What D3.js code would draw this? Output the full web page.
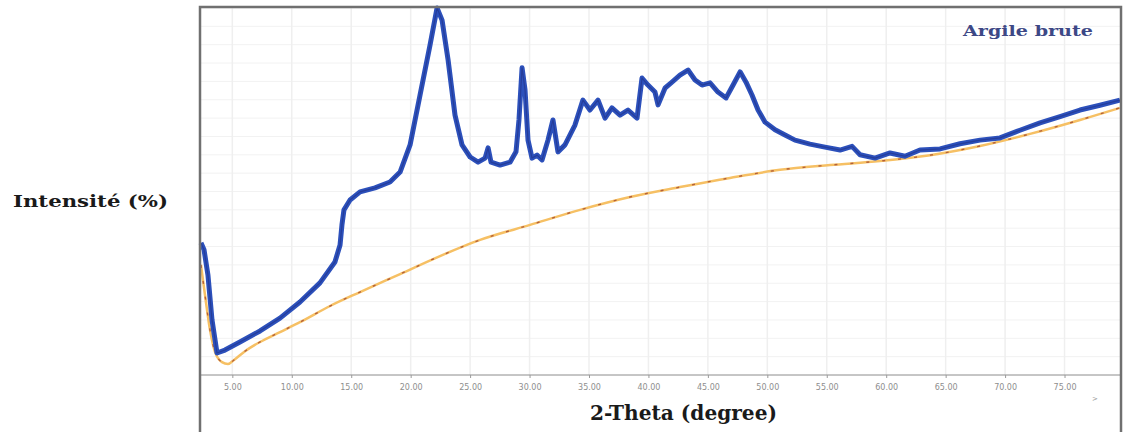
<!DOCTYPE html>
<html>
<head>
<meta charset="utf-8">
<script src="https://cdn.jsdelivr.net/npm/d3@7"></script>
<style>
  body { margin: 0; background: #fff; }
  .path { fill: none; }
</style>
</head>
<body>
<svg id="visu" width="1133" height="432"></svg>
<script>
// measured scan (2-theta in degree, intensity in %)
var twoTheta = [2.36, 2.62, 2.95, 3.29, 3.71, 4.38, 5.64, 7.33, 9.01, 10.69, 12.37, 13.63, 14.06, 14.22, 14.39,
  14.90, 15.74, 17.0, 18.26, 19.11, 19.95, 20.79, 21.63, 22.22, 22.64, 23.15, 23.73, 24.32, 25.0, 25.67,
  26.26, 26.51, 26.76, 27.52, 28.36, 28.86, 29.11, 29.37, 29.62, 29.87, 30.21, 30.63, 31.05, 31.55, 31.97,
  32.39, 32.98, 33.82, 34.49, 35.08, 35.76, 36.35, 36.93, 37.61, 38.28, 39.04, 39.46, 39.96, 40.55, 40.81,
  41.40, 41.98, 42.65, 43.33, 43.92, 44.51, 45.18, 45.85, 46.53, 47.12, 47.71, 48.21, 48.71, 49.22, 49.81,
  50.65, 51.49, 52.33, 53.59, 54.85, 56.12, 57.13, 57.80, 59.06, 60.32, 61.58, 62.84, 64.53, 66.21, 67.89,
  69.57, 71.25, 72.94, 74.62, 76.30, 77.98, 79.66];
var intensity = [36.0, 34.1, 27.2, 15.0, 6.0, 6.8, 9.0, 12.0, 15.5, 19.9, 25.1, 30.8, 35.4, 40.9, 45.0,
  47.7, 49.9, 51.0, 52.6, 55.3, 62.7, 76.3, 89.9, 100, 96.7, 85.8, 70.8, 62.7, 59.4, 58.0,
  59.1, 61.9, 58.0, 57.2, 58.0, 60.8, 69.5, 83.7, 77.7, 64.0, 59.1, 59.9, 58.6, 64.0, 69.5,
  60.8, 62.7, 68.1, 74.9, 72.2, 74.9, 70.0, 72.8, 70.8, 72.2, 70.0, 80.9, 79.0, 77.1, 73.6,
  78.2, 79.8, 81.7, 83.1, 80.4, 79.0, 79.6, 77.1, 75.5, 79.0, 82.6, 79.8, 76.3, 72.2, 68.9,
  66.8, 65.4, 64.0, 62.9, 62.1, 61.3, 62.3, 60.0, 59.1, 60.5, 59.6, 61.3, 61.6, 63.0, 64.0,
  64.6, 66.7, 68.7, 70.4, 72.2, 73.5, 74.9];

// fitted background
var baseTheta = [2.36, 2.70, 3.12, 3.54, 4.13, 4.63, 5.14, 6.07, 7.33, 9.01, 10.69, 13.22, 15.74, 19.11, 22.47,
  25.84, 30.04, 34.25, 38.45, 42.66, 46.86, 51.07, 55.28, 59.48, 63.69, 67.89, 72.10, 76.30, 79.66];
var baseIntensity = [30.0, 21.8, 12.3, 6.3, 3.5, 3.0, 4.1, 6.5, 9.0, 11.7, 14.4, 18.8, 22.6, 27.5, 32.4,
  36.8, 40.9, 45.0, 48.5, 51.2, 53.7, 55.9, 57.2, 58.3, 59.9, 62.4, 65.7, 69.5, 72.8];

var xTicks = [5, 10, 15, 20, 25, 30, 35, 40, 45, 50, 55, 60, 65, 70, 75];

var vis = d3.select("#visu"),
    LEFT = 200,
    RIGHT = 1121,
    TOP = 8,
    AXIS_Y = 375,
    xScale = d3.scaleLinear().domain([2.28, 79.75]).range([LEFT, RIGHT]),
    yScale = d3.scaleLinear().domain([0, 100]).range([AXIS_Y, TOP]);

var scan = twoTheta.map(function(t, i) { return { t: t, v: intensity[i] }; });
var base = baseTheta.map(function(t, i) { return { t: t, v: baseIntensity[i] }; });

var lineGen = d3.line()
    .x(function(d) { return xScale(d.t); })
    .y(function(d) { return yScale(d.v); });

var smoothGen = d3.line()
    .curve(d3.curveMonotoneX)
    .x(function(d) { return xScale(d.t); })
    .y(function(d) { return yScale(d.v); });

// faint grid
vis.append("g")
  .selectAll("line")
  .data(d3.range(5, 101, 5))
  .enter().append("line")
    .attr("x1", LEFT).attr("x2", RIGHT)
    .attr("y1", function(d) { return yScale(d); })
    .attr("y2", function(d) { return yScale(d); })
    .attr("stroke", "#f2f2f2")
    .attr("stroke-width", 1);

vis.append("g")
  .selectAll("line")
  .data(xTicks)
  .enter().append("line")
    .attr("x1", function(d) { return xScale(d); })
    .attr("x2", function(d) { return xScale(d); })
    .attr("y1", TOP).attr("y2", AXIS_Y)
    .attr("stroke", "#efefef")
    .attr("stroke-width", 1.5);

// x axis
var xAxis = d3.axisBottom(xScale)
    .tickValues(xTicks)
    .tickSize(3)
    .tickFormat(d3.format(".2f"));

var ax = vis.append("g")
    .attr("transform", "translate(0," + AXIS_Y + ")")
    .call(xAxis);
ax.select(".domain").attr("stroke", "#8c8c8c").attr("d", "M" + LEFT + ",0H" + RIGHT);
ax.selectAll(".tick line").attr("stroke", "#9a9a9a");
ax.selectAll(".tick text")
    .attr("fill", "#8e8e8e")
    .attr("y", 9)
    .style("font-family", "DejaVu Sans")
    .style("font-size", "8px");

vis.append("text")
    .attr("x", 1092).attr("y", 401)
    .attr("fill", "#999")
    .style("font-family", "DejaVu Sans")
    .style("font-size", "7px")
    .text(">");

// background curve
vis.append("path")
    .attr("d", smoothGen(base))
    .attr("class", "path")
    .attr("stroke", "#f6c064")
    .attr("stroke-width", 2.5);

vis.append("path")
    .attr("d", smoothGen(base))
    .attr("class", "path")
    .attr("stroke", "#b4603a")
    .attr("stroke-width", 1.4)
    .attr("stroke-dasharray", "3,13");

// scan
vis.append("path")
    .attr("d", lineGen(scan))
    .attr("class", "path")
    .attr("stroke", "#2c50bb")
    .attr("stroke-width", 5)
    .attr("stroke-linejoin", "round");

vis.append("path")
    .attr("d", lineGen(scan))
    .attr("class", "path")
    .attr("stroke", "#22358c")
    .attr("stroke-width", 1.2)
    .attr("stroke-linejoin", "round")
    .attr("opacity", 0.7);

// frame
vis.append("rect")
    .attr("x", LEFT).attr("y", TOP - 1)
    .attr("width", RIGHT - LEFT).attr("height", 440)
    .attr("fill", "none")
    .attr("stroke", "#707070")
    .attr("stroke-width", 2.5);

// labels
vis.append("text")
    .attr("x", 963).attr("y", 36)
    .attr("fill", "#3d4886")
    .attr("textLength", 130).attr("lengthAdjust", "spacingAndGlyphs")
    .style("font-family", "DejaVu Serif").style("font-weight", "bold").style("font-size", "15px")
    .text("Argile brute");

vis.append("text")
    .attr("x", 13).attr("y", 207)
    .attr("fill", "#1a1a1a")
    .attr("textLength", 155).attr("lengthAdjust", "spacingAndGlyphs")
    .style("font-family", "DejaVu Serif").style("font-weight", "bold").style("font-size", "16px")
    .text("Intensité (%)");

vis.append("text")
    .attr("x", 590).attr("y", 420)
    .attr("fill", "#1a1a1a")
    .attr("textLength", 187).attr("lengthAdjust", "spacingAndGlyphs")
    .style("font-family", "DejaVu Serif").style("font-weight", "bold").style("font-size", "20px")
    .text("2-Theta (degree)");
</script>
</body>
</html>
